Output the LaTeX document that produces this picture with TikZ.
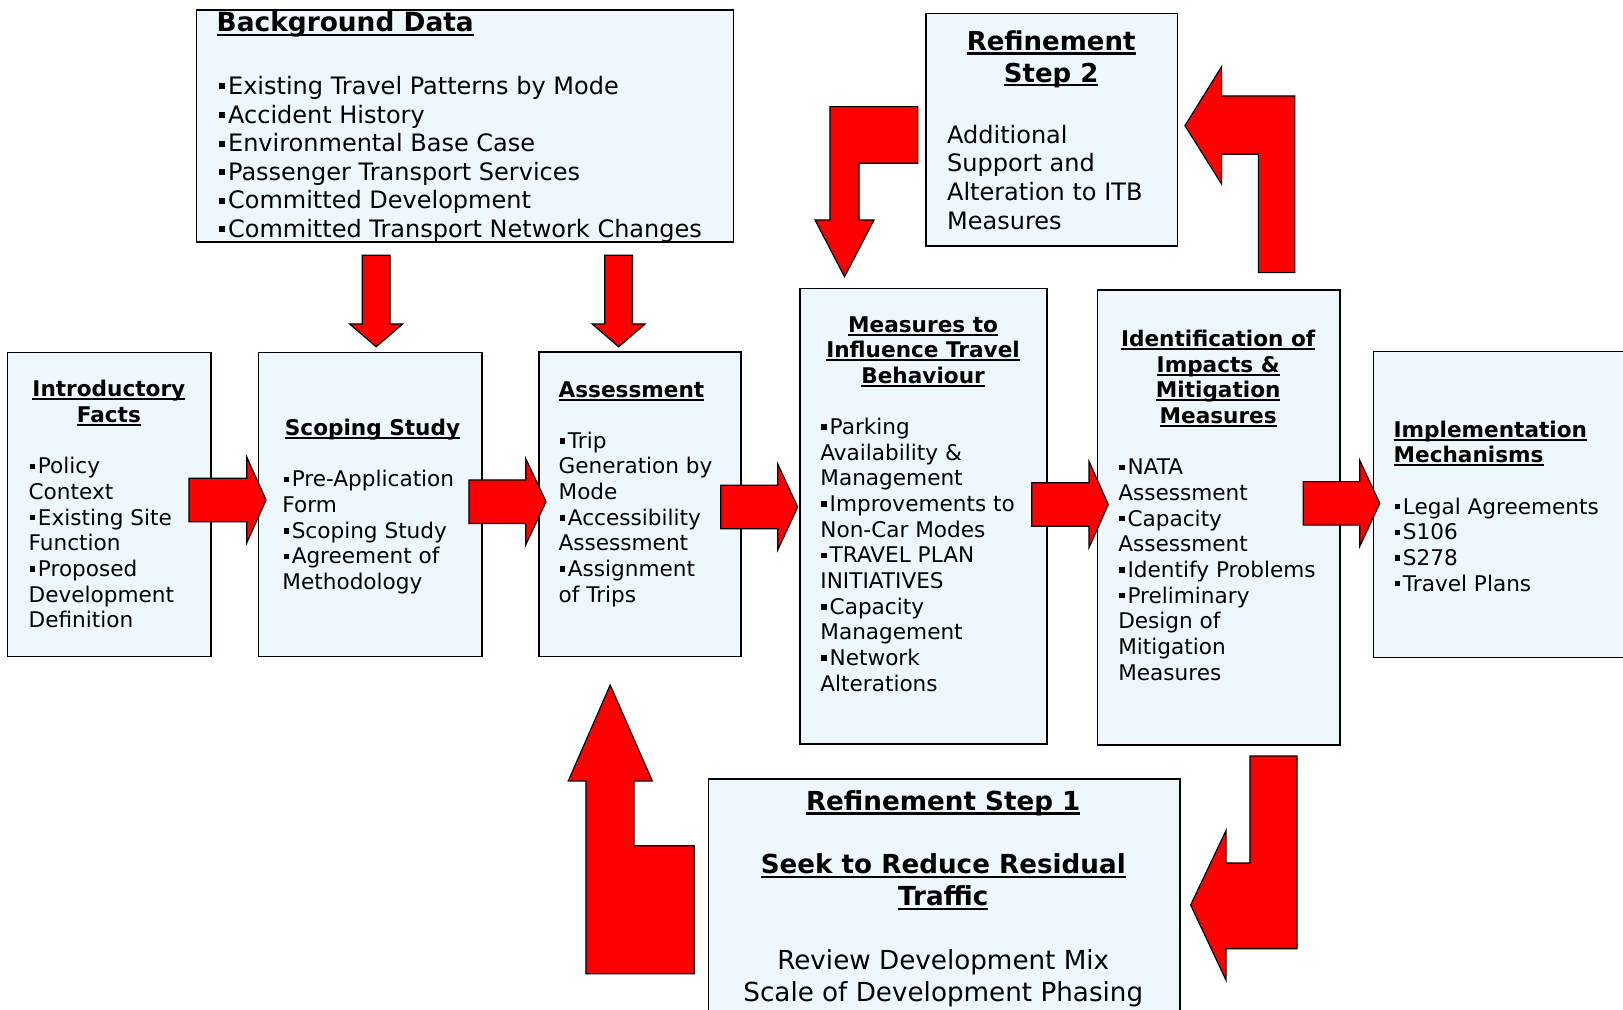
\documentclass[tikz,border=0pt]{standalone}
\usepackage{fontspec}
\setmainfont{DejaVu Sans}
\newlength\pxu
\setlength\pxu{0.5175pt}
\definecolor{boxfill}{RGB}{238,248,252}
\newcommand\ttl[1]{\setbox0\hbox{\bfseries #1}\rlap{\rule[-0.17em]{\wd0}{0.1em}}\box0}
\newcommand\bl{\kern0.05em\rule[0.22em]{0.25em}{0.25em}\kern0.13em}
\newcommand\ctr[2]{\makebox[#1\pxu][c]{#2}}
\newcommand\hblock[4]{%
  \draw[blk] (#1,#4-21) -- (#2,#4-21) -- (#2,#4-41.7) -- (#3,#4) -- (#2,#4+41.7) -- (#2,#4+21) -- (#1,#4+21) -- cycle;}
\newcommand\vblock[4]{%
  \draw[blk] (#1-13.4,#2) -- (#1+13.4,#2) -- (#1+13.4,#3) -- (#1+25.6,#3) -- (#1,#4) -- (#1-25.6,#3) -- (#1-13.4,#3) -- cycle;}
\begin{document}
\begin{tikzpicture}[x=0.5175pt,y=-0.5175pt,
  box/.style={draw=black,line width=0.8pt,fill=boxfill,rectangle,inner sep=0pt,anchor=north west},
  blk/.style={draw=black,line width=0.6pt,fill=red,line join=miter},
  txt/.style={inner sep=0pt,align=left,anchor=north west,font=\fontsize{10.8}{12.83}\selectfont}]
\useasboundingbox (0,0) rectangle (1568,975);
\clip (0,0) rectangle (1568,975);
% boxes
\node[box,minimum width=196.8\pxu,minimum height=293.7\pxu] (intro) at (6.4,339.7) {};
\node[box,minimum width=215.8\pxu,minimum height=293.7\pxu] (scop) at (248.9,339.7) {};
\node[box,minimum width=194.9\pxu,minimum height=294.3\pxu] (assess) at (520,339.1) {};
\node[box,minimum width=238.3\pxu,minimum height=440.2\pxu] (meas) at (772.2,277.9) {};
\node[box,minimum width=234.1\pxu,minimum height=439.6\pxu] (ident) at (1059.5,279.2) {};
\node[box,minimum width=260\pxu,minimum height=295.6\pxu] (impl) at (1326.2,338.8) {};
\node[box,minimum width=519\pxu,minimum height=224\pxu] (bg) at (189,9) {};
\node[box,minimum width=243.2\pxu,minimum height=224.5\pxu] (ref2) at (893.6,12.2) {};
\node[box,minimum width=455.3\pxu,minimum height=260\pxu] (ref1) at (683.7,752) {};
% texts
\node[inner sep=0pt,anchor=base west,font=\fontsize{13.2}{16}\selectfont] (bgh) at (209,30.9) {\ttl{Background Data}};
\node[txt,font=\fontsize{12}{14.28}\selectfont] (bgb) at (210,71.8) {\strut\bl Existing Travel Patterns by Mode\\ \bl Accident History\\ \bl Environmental Base Case\\ \bl Passenger Transport Services\\ \bl Committed Development\\ \bl Committed Transport Network Changes};
\node[inner sep=0pt,align=center,anchor=north,font=\fontsize{13}{15.83}\selectfont] (ref2h) at (1015.5,26.9) {\strut\ttl{Refinement}\\ \ttl{Step 2}};
\node[txt,font=\fontsize{12}{14.44}\selectfont] (ref2b) at (914.6,118.3) {\strut Additional\\ Support and\\ Alteration to ITB\\ Measures};
\node[inner sep=0pt,align=center,anchor=north,font=\fontsize{13.1}{15.9}\selectfont] (ref1t) at (911.3,761) {\strut\ttl{Refinement Step 1}\\[\baselineskip] \ttl{Seek to Reduce Residual}\\ \ttl{Traffic}\\[\baselineskip] Review Development Mix\\ Scale of Development Phasing};
\node[txt] (introt) at (27.3,365.6) {\strut\ctr{155}{\ttl{Introductory}}\\ \ctr{155}{\ttl{Facts}}\\[\baselineskip] \bl Policy\\ Context\\ \bl Existing Site\\ Function\\ \bl Proposed\\ Development\\ Definition};
\node[txt] (scopt) at (272.5,403.1) {\strut\ctr{174}{\ttl{Scoping Study}}\\[\baselineskip] \bl Pre-Application\\ Form\\ \bl Scoping Study\\ \bl Agreement of\\ Methodology};
\node[txt] (assesst) at (539.3,365.8) {\strut\ttl{Assessment}\\[\baselineskip] \bl Trip\\ Generation by\\ Mode\\ \bl Accessibility\\ Assessment\\ \bl Assignment\\ of Trips};
\node[txt] (meast) at (792.2,303.0) {\strut\ctr{198.4}{\ttl{Measures to}}\\ \ctr{198.4}{\ttl{Influence Travel}}\\ \ctr{198.4}{\ttl{Behaviour}}\\[\baselineskip] \bl Parking\\ Availability \&\\ Management\\ \bl Improvements to\\ Non-Car Modes\\ \bl TRAVEL PLAN\\ INITIATIVES\\ \bl Capacity\\ Management\\ \bl Network\\ Alterations};
\node[txt] (identt) at (1080,317.0) {\strut\ctr{193}{\ttl{Identification of}}\\ \ctr{193}{\ttl{Impacts \&}}\\ \ctr{193}{\ttl{Mitigation}}\\ \ctr{193}{\ttl{Measures}}\\[\baselineskip] \bl NATA\\ Assessment\\ \bl Capacity\\ Assessment\\ \bl Identify Problems\\ \bl Preliminary\\ Design of\\ Mitigation\\ Measures};
\node[txt] (implt) at (1346,404.5) {\strut\ttl{Implementation}\\ \ttl{Mechanisms}\\[\baselineskip] \bl Legal Agreements\\ \bl S106\\ \bl S278\\ \bl Travel Plans};
% block arrows
\hblock{182.6}{238.3}{257}{483}
\hblock{453.1}{507.9}{527.5}{484.7}
\hblock{696.3}{751.3}{770.6}{489.8}
\hblock{996.7}{1052.1}{1070.7}{487.4}
\hblock{1259}{1313.6}{1333}{486.3}
\vblock{363.4}{246.6}{313}{335}
\vblock{597.7}{246.6}{313}{335}
\draw[blk] (801.8,103) -- (886.6,103) -- (886.6,157.8) -- (829.9,157.8) -- (829.9,212.5) -- (844.4,212.5) -- (815.9,267.3) -- (787.4,212.5) -- (801.8,212.5) -- cycle;
\draw[blk] (1251,263.4) -- (1251,92.7) -- (1180.2,92.7) -- (1180.2,64.4) -- (1144.8,121.4) -- (1180.2,177.8) -- (1180.2,149) -- (1215.7,149) -- (1215.7,263.4) -- cycle;
\draw[blk] (566.1,940.7) -- (566.1,754.5) -- (549,754.5) -- (589.5,661.8) -- (630.2,754.5) -- (612.5,754.5) -- (612.5,817) -- (670.8,817) -- (670.8,940.7) -- cycle;
\draw[blk] (1253,730.4) -- (1253,916.5) -- (1184.4,916.5) -- (1184.4,946.8) -- (1150.3,874.3) -- (1184.4,802.5) -- (1184.4,833.7) -- (1207.6,833.7) -- (1207.6,730.4) -- cycle;
\end{tikzpicture}
\end{document}
